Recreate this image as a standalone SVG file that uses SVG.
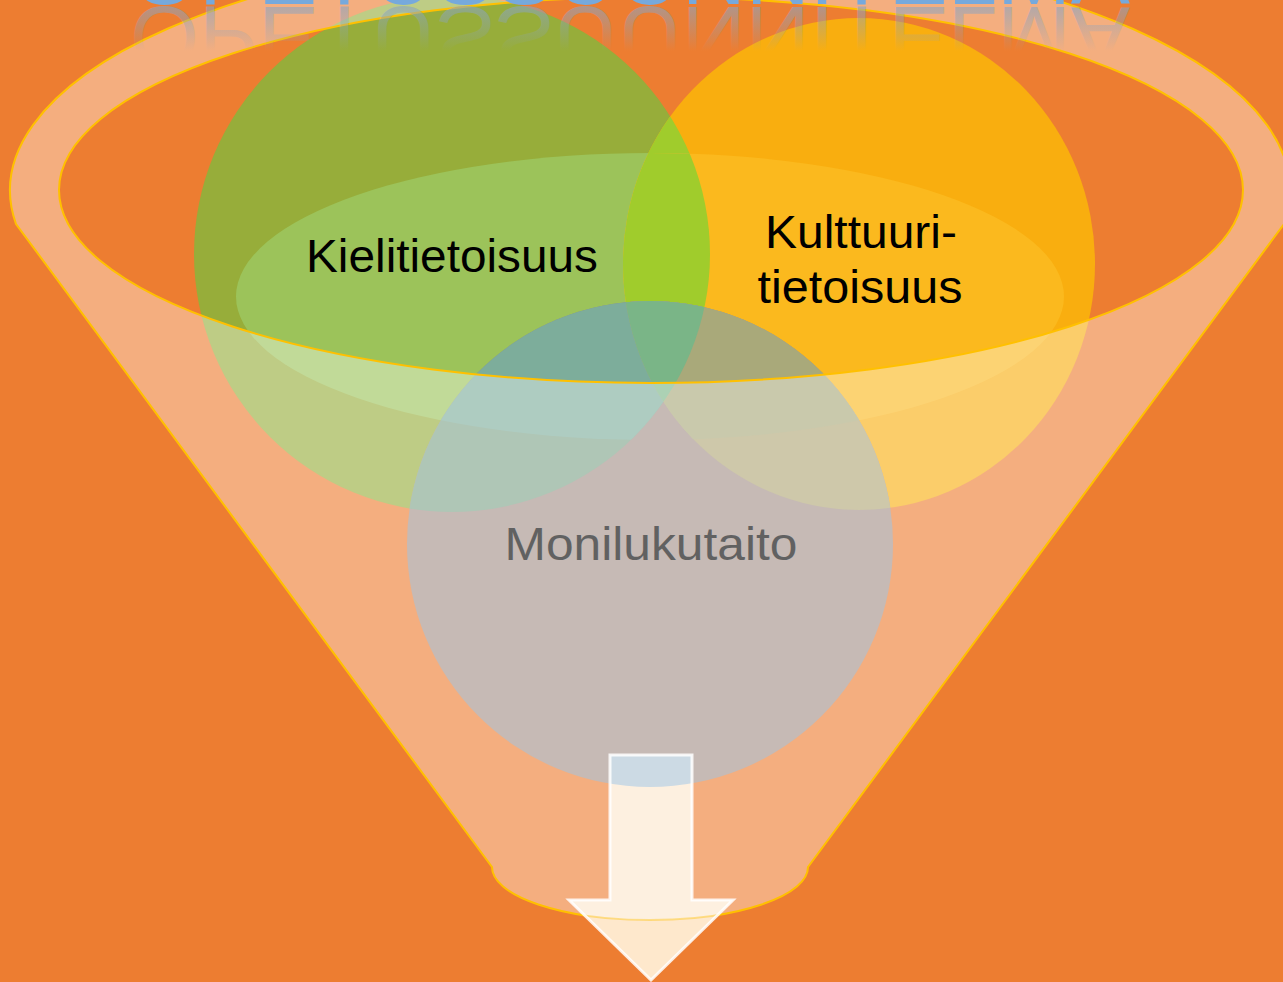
<svg xmlns="http://www.w3.org/2000/svg" width="1283" height="982" viewBox="0 0 1283 982">
<style>
.lbl{font-family:"Liberation Sans",Arial,sans-serif;font-size:46px;fill:#000;text-anchor:middle}
.ttl{font-family:"Liberation Sans",Arial,sans-serif;font-size:88px;text-anchor:middle}
</style>
<defs>
<ellipse id="yel" cx="859" cy="264" rx="236" ry="246"/>
<circle id="grn" cx="452" cy="254" r="258"/>
<clipPath id="cG"><circle cx="452" cy="254" r="258"/></clipPath>
<clipPath id="cB"><circle cx="650" cy="544" r="243"/></clipPath>
<clipPath id="cE"><ellipse cx="650" cy="296.5" rx="414" ry="143.5"/></clipPath>
<clipPath id="cFun"><path d="M16,224 A640,246 0 1 1 1284,224 L808,867 A158,53 0 0 1 492,867 Z"/></clipPath>
<clipPath id="cArr"><path d="M610,755 L692,755 L692,900 L733,900 L651,980 L569,900 L610,900 Z"/></clipPath>
<linearGradient id="refl" gradientUnits="userSpaceOnUse" x1="0" y1="4" x2="0" y2="-40">
<stop offset="0" stop-color="#8AA4C2" stop-opacity="0.6"/>
<stop offset="1" stop-color="#8AA4C2" stop-opacity="0"/>
</linearGradient>
</defs>
<rect width="1283" height="982" fill="#ED7D31"/>
<g id="shapes">
<g id="node-kielitietoisuus-shape"><use href="#grn" fill="#97AD3A"/></g>
<g id="node-kulttuuritietoisuus-shape"><use href="#yel" fill="#F9AE0F"/></g>
<g clip-path="url(#cG)"><use href="#yel" fill="#A0CC2C"/></g>
<g id="inner-highlight" clip-path="url(#cE)">
<use href="#grn" fill="#9CC35A"/>
<use href="#yel" fill="#FBB91E"/>
<g clip-path="url(#cG)"><use href="#yel" fill="#A0CC2C"/></g>
</g>
<g id="node-monilukutaito-shape"><circle cx="650" cy="544" r="243" fill="#A39088"/></g>
<g clip-path="url(#cB)">
<use href="#grn" fill="#7FA389"/>
<use href="#yel" fill="#B0A676"/>
<g clip-path="url(#cE)">
<use href="#grn" fill="#7DAD9B"/>
<use href="#yel" fill="#A9A97A"/>
<g clip-path="url(#cG)"><use href="#yel" fill="#7AB587"/></g>
</g>
</g>
</g>
<g id="node-kielitietoisuus"><text class="lbl" x="452" y="272" textLength="292" lengthAdjust="spacingAndGlyphs">Kielitietoisuus</text></g>
<g id="node-kulttuuritietoisuus"><text class="lbl" x="861" y="248" textLength="192" lengthAdjust="spacingAndGlyphs">Kulttuuri-</text><text class="lbl" x="860" y="303" textLength="205" lengthAdjust="spacingAndGlyphs">tietoisuus</text></g>
<g id="node-monilukutaito"><text class="lbl" x="651" y="560" textLength="293" lengthAdjust="spacingAndGlyphs">Monilukutaito</text></g>
<g id="funnel">
<path d="M16,224 A640,246 0 1 1 1284,224 L808,867 A158,53 0 0 1 492,867 Z M59,190 A592,193 0 1 0 1243,190 A592,193 0 1 0 59,190 Z" fill="#FFFFFF" fill-opacity="0.38" fill-rule="evenodd" stroke="#FFC000" stroke-width="2"/>
</g>
<g id="connectors">
<path d="M610,755 L692,755 L692,900 L733,900 L651,980 L569,900 L610,900 Z" fill="#FEE8CC"/>
<g clip-path="url(#cArr)">
<rect x="0" y="0" width="1283" height="982" fill="#FDF0E0" clip-path="url(#cFun)"/>
<circle cx="650" cy="544" r="243" fill="#CCDAE4"/>
<path d="M808,867 A158,53 0 0 1 492,867" fill="none" stroke="#FFC000" stroke-width="2" stroke-opacity="0.4"/>
</g>
<path d="M610,755 L692,755 L692,900 L733,900 L651,980 L569,900 L610,900 Z" fill="none" stroke="#FFFFFF" stroke-width="3" stroke-opacity="0.85"/>
</g>
<g id="title">
<text class="ttl" x="630" y="4" fill="#76A9DC" textLength="1000" lengthAdjust="spacingAndGlyphs">OPETUSSUUNNITELMA</text>
<text class="ttl" x="630" y="4" fill="url(#refl)" transform="matrix(1 0 0 -1 0 11)" textLength="1000" lengthAdjust="spacingAndGlyphs">OPETUSSUUNNITELMA</text>
</g>
</svg>
